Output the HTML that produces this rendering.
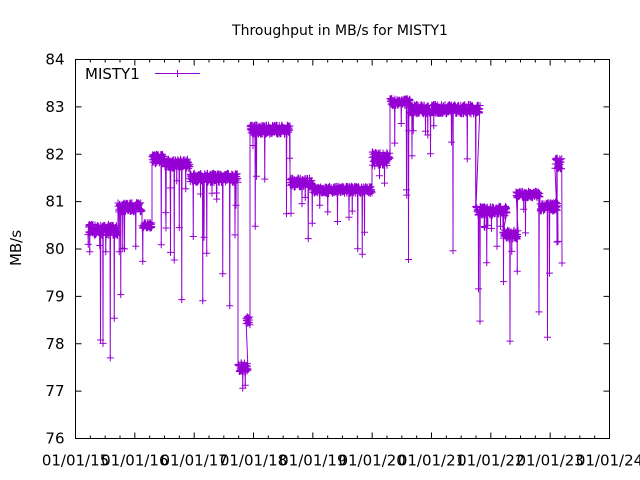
<!DOCTYPE html>
<html><head><meta charset="utf-8"><style>
html,body{margin:0;padding:0;background:#fff;}
svg{display:block;font-family:"DejaVu Sans","Liberation Sans",sans-serif;}
</style></head><body>
<svg id="s" width="640" height="480" viewBox="0 0 640 480">
<rect width="640" height="480" fill="#fff"/>
<text x="340" y="35" font-size="14" text-anchor="middle">Throughput in MB/s for MISTY1</text>
<text transform="translate(21,248) rotate(-90)" font-size="15" text-anchor="middle">MB/s</text>
<g id="ax" stroke="#000" stroke-width="1" fill="none"></g>
<g id="lbl" font-size="15" fill="#000"></g>
<g id="data" stroke="#9400d3" fill="none"></g>
<text x="85" y="79" font-size="15">MISTY1</text>
<line x1="155" y1="73.5" x2="200" y2="73.5" stroke="#9400d3"/>
<path d="M177.5 70v7M174 73.5h7" stroke="#9400d3"/>
</svg>
<script>
var NS="http://www.w3.org/2000/svg";
function el(t,a,p){var e=document.createElementNS(NS,t);for(var k in a)e.setAttribute(k,a[k]);p.appendChild(e);return e;}
var ax=document.getElementById('ax'),lb=document.getElementById('lbl'),dg=document.getElementById('data');
var L=75.5,R=609.5,T=59.5,B=438.5;
el('rect',{x:L,y:T,width:R-L,height:B-T},ax);
function Y(v){return B-(v-76)*(B-T)/8;}
for(var v=76;v<=84;v++){var y=Y(v);el('line',{x1:L,y1:y,x2:L+6,y2:y},ax);el('line',{x1:R,y1:y,x2:R-6,y2:y},ax);
var t=el('text',{x:L-11,y:y+5,'text-anchor':'end'},lb);t.textContent=v;}
var labs=['01/01/15','01/01/16','01/01/17','01/01/18','01/01/19','01/01/20','01/01/21','01/01/22','01/01/23','01/01/24'];
var st=(R-L)/9;
for(var i=0;i<10;i++){var x=L+i*st;el('line',{x1:x,y1:B,x2:x,y2:B-6},ax);el('line',{x1:x,y1:T,x2:x,y2:T+6},ax);
if(i<9)for(var q=1;q<4;q++){var xm=x+q*st/4;el('line',{x1:xm,y1:B,x2:xm,y2:B-3},ax);el('line',{x1:xm,y1:T,x2:xm,y2:T+3},ax);}
var t=el('text',{x:x,y:B+27,'text-anchor':'middle'},lb);t.textContent=labs[i];}
var seg=[[88,118,80.4,0.12],[118,142,80.88,0.1],[142,152,80.5,0.06],[152,165,81.9,0.1],[165,190,81.8,0.1],[190,238,81.5,0.1],[238,248,77.5,0.1],[246,250,78.5,0.1],[250,290,82.52,0.1],[290,312,81.4,0.1],[312,372,81.25,0.08],[372,390,81.9,0.15],[390,410,83.1,0.08],[410,480,82.95,0.1],[476,507,80.8,0.1],[503,518,80.3,0.1],[516,540,81.15,0.07],[540,558,80.9,0.1],[555,562,81.8,0.12]];
var s=12345;function r(){s=(s*16807)%2147483647;return s/2147483647;}
var pts=[],d='';
seg.forEach(function(g){for(var x=g[0];x<=g[1];x+=0.25){var v=g[2]+(r()-0.5)*2*g[3];
if(r()<0.05)v=g[2]-0.3-r()*r()*3.5;pts.push([x,Math.max(76.5,v)]);}});
var pl=pts.map(function(p){return p[0].toFixed(2)+','+Y(p[1]).toFixed(1);}).join(' ');
el('polyline',{points:pl,'stroke-width':1},dg);
pts.forEach(function(p,i){var x=p[0],y=Y(p[1]);d+='M'+(x-3.5)+' '+y.toFixed(1)+'h7M'+x+' '+(y-3.5).toFixed(1)+'v7';});
el('path',{d:d,'stroke-width':1},dg);
</script>
</body></html>
